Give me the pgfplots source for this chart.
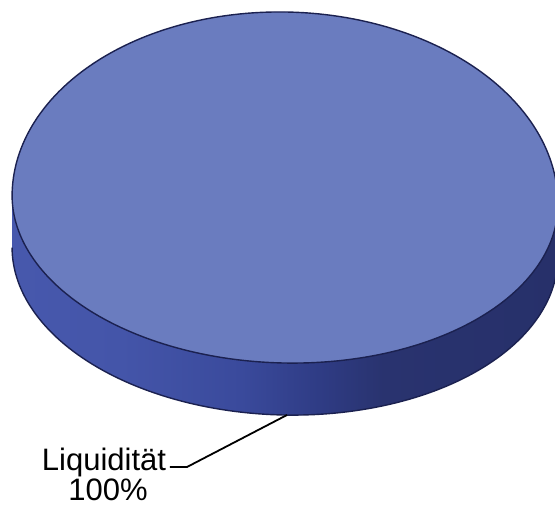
\documentclass[border=0pt]{standalone}
\usepackage{pgfplots}
\pgfplotsset{compat=1.18}
\usepackage{pgfplotstable}
\usepackage{fontspec}
\setmainfont{Liberation Sans}

\definecolor{topface}{HTML}{6A7CBF}
\definecolor{edge}{HTML}{1B2150}
\definecolor{sA}{HTML}{4354A8}
\definecolor{sB}{HTML}{4A5BB0}
\definecolor{sC}{HTML}{4455A9}
\definecolor{sD}{HTML}{3A4A9C}
\definecolor{sE}{HTML}{2F3C85}
\definecolor{sF}{HTML}{29336F}
\definecolor{sG}{HTML}{262F68}
\definecolor{sH}{HTML}{1E2656}

% side wall of the disc: lighter on the left, darker to the right
\pgfdeclarehorizontalshading{sideshade}{100bp}{
  color(0bp)=(sA); color(16bp)=(sB); color(35bp)=(sC); color(46bp)=(sD);
  color(53bp)=(sE); color(59bp)=(sF); color(81bp)=(sG); color(100bp)=(sH)}

% share of each position in percent
\pgfplotstableread{
label value
Liquidität 100
}\piedata
\pgfplotstablegetelem{0}{value}\of\piedata
\let\sliceval\pgfplotsretval
\pgfmathsetmacro{\sweep}{3.6*\sliceval}

% disc geometry (axis units): the near half is drawn a little flatter
\def\cx{285}\def\cy{306}\def\rx{273}\def\ryu{188}\def\ryl{163}\def\ph{-1.5}\def\hh{52}
\def\RY#1{(\ryu*(sin(#1)>=0)+\ryl*(sin(#1)<0))}
\def\PX#1{\cx + \rx*cos(#1)*cos(\ph) - \RY{#1}*sin(#1)*sin(\ph)}
\def\PY#1{\cy + \rx*cos(#1)*sin(\ph) + \RY{#1}*sin(#1)*cos(\ph)}

\begin{document}
\begin{tikzpicture}
\useasboundingbox (0,0) rectangle (277.5bp,253bp);
\begin{axis}[
  x=0.5bp, y=0.5bp,
  xmin=0, xmax=555, ymin=0, ymax=506,
  hide axis, clip=true,
]
% front wall: lower half of the rim, then the same half shifted down
\addplot[shading=sideshade, draw=none, domain=181:541, samples=361]
  ({\PX{(x-2*(x-361)*(x>361))}},
   {\PY{(x-2*(x-361)*(x>361))} - \hh*(x>361)});
\addplot[edge, line width=0.7bp, domain=181:361, samples=121]
  ({\PX{x}}, {\PY{x} - \hh});

% top face, sweep set by the slice value
\addplot[fill=topface, draw=edge, line width=0.7bp, domain=0:\sweep, samples=241]
  ({\PX{x}}, {\PY{x}});

% leader line and label
\addplot[black, line width=0.9bp] coordinates {(170,39) (187,39) (287,91)};
\node[anchor=base, font=\fontsize{15.5bp}{18bp}\selectfont] at (axis cs:104,36) {Liquidität};
\node[anchor=base, font=\fontsize{15.5bp}{18bp}\selectfont] at (axis cs:108,6) {\sliceval\%};
\end{axis}
\end{tikzpicture}
\end{document}
